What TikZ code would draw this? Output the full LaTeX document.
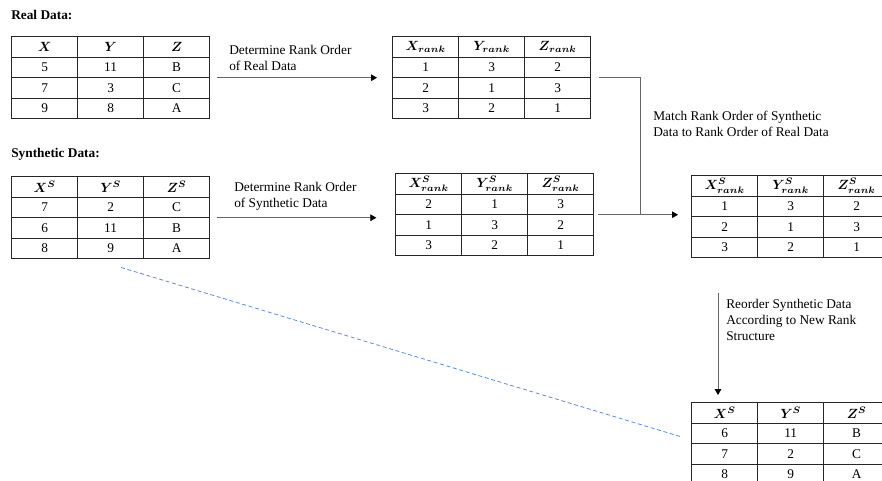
\documentclass[tikz,border=0pt]{standalone}
\usepackage{amsmath}
\usepackage{fontspec}
\setmainfont{Liberation Serif}
\usepackage{tikz}
\usetikzlibrary{matrix,positioning,calc,arrows.meta}

\definecolor{dashblue}{RGB}{95,140,215}

\begin{document}
\begin{tikzpicture}[
        x=0.75pt, y=-0.75pt,
        cell/.style={draw=black!85, line width=0.6pt, minimum width=49.5pt, minimum height=15.4pt, inner sep=1pt, anchor=center},
        datatab/.style={matrix of nodes, nodes={cell}, column sep=-0.6pt, row sep=-0.6pt, inner sep=0pt, anchor=north west},
        link/.style={draw=black!60, line width=0.6pt},
        arrowlink/.style={link, -{Triangle[length=4.5pt, width=5pt, color=black]}},
        note/.style={anchor=base west, align=left, inner sep=0pt},
        title/.style={anchor=base west, inner sep=0pt, font=\bfseries}
    ]
    \useasboundingbox (0,0) rectangle (882,481);

    % Real data
    \node[title] (realtitle) at (11,20) {Real Data:};
    \matrix (real) [datatab] at (11,36) {
        $\boldsymbol{X}$ & $\boldsymbol{Y}$ & $\boldsymbol{Z}$ \\
        5 & 11 & B \\
        7 & 3 & C \\
        9 & 8 & A \\
    };
    \matrix (rank) [datatab] at (392,36) {
        $\boldsymbol{X_{rank}}$ & $\boldsymbol{Y_{rank}}$ & $\boldsymbol{Z_{rank}}$ \\
        1 & 3 & 2 \\
        2 & 1 & 3 \\
        3 & 2 & 1 \\
    };

    % Synthetic data
    \node[title] (syntitle) at (11,158) {Synthetic Data:};
    \matrix (syn) [datatab] at (11,176) {
        $\boldsymbol{X^{S}}$ & $\boldsymbol{Y^{S}}$ & $\boldsymbol{Z^{S}}$ \\
        7 & 2 & C \\
        6 & 11 & B \\
        8 & 9 & A \\
    };
    \matrix (synrank) [datatab] at (395,173) {
        $\boldsymbol{X^{S}_{rank}}$ & $\boldsymbol{Y^{S}_{rank}}$ & $\boldsymbol{Z^{S}_{rank}}$ \\
        2 & 1 & 3 \\
        1 & 3 & 2 \\
        3 & 2 & 1 \\
    };

    % Matched ranks and reordered data
    \matrix (match) [datatab] at (691,175) {
        $\boldsymbol{X^{S}_{rank}}$ & $\boldsymbol{Y^{S}_{rank}}$ & $\boldsymbol{Z^{S}_{rank}}$ \\
        1 & 3 & 2 \\
        2 & 1 & 3 \\
        3 & 2 & 1 \\
    };
    \matrix (final) [datatab] at (691,402) {
        $\boldsymbol{X^{S}}$ & $\boldsymbol{Y^{S}}$ & $\boldsymbol{Z^{S}}$ \\
        6 & 11 & B \\
        7 & 2 & C \\
        8 & 9 & A \\
    };

    % Step labels (base = last line)
    \node[note] (lblreal) at (229,71) {Determine Rank Order\\of Real Data};
    \node[note] (lblsyn) at (234,208) {Determine Rank Order\\of Synthetic Data};
    \node[note] (lblmatch) at (653,137) {Match Rank Order of Synthetic\\Data to Rank Order of Real Data};
    \node[note] (lblreorder) at (726,340) {Reorder Synthetic Data\\According to New Rank\\Structure};

    % Connections
    \coordinate (junc) at ($(synrank.east)+(34.5pt,0)$);
    \coordinate (dashA) at ($(syn.south west)+(82.5pt,-6pt)$);
    \coordinate (dashB) at ($(final.west)+(-6.75pt,5pt)$);
    \draw[arrowlink] ([xshift=5.25pt]real.east) -- ([xshift=-11.25pt]real.east -| rank.west);
    \draw[arrowlink] ([xshift=5.25pt]syn.east) -- ($(syn.east -| synrank.west)+(-14pt,0)$);
    \draw[link] ([xshift=6pt]rank.east) -| (junc);
    \draw[link] ([xshift=3pt]synrank.east) -- (junc);
    \draw[arrowlink] (junc) -- ($(junc -| match.west)+(-9.75pt,0)$);
    \draw[arrowlink] ($(match.south west)+(20.25pt,-26.25pt)$) -- ($(final.north west)+(20.25pt,5.25pt)$);
    \draw[dashblue, line width=0.6pt, dash pattern=on 3pt off 2pt] (dashA) -- (dashB);

\end{tikzpicture}
\end{document}
